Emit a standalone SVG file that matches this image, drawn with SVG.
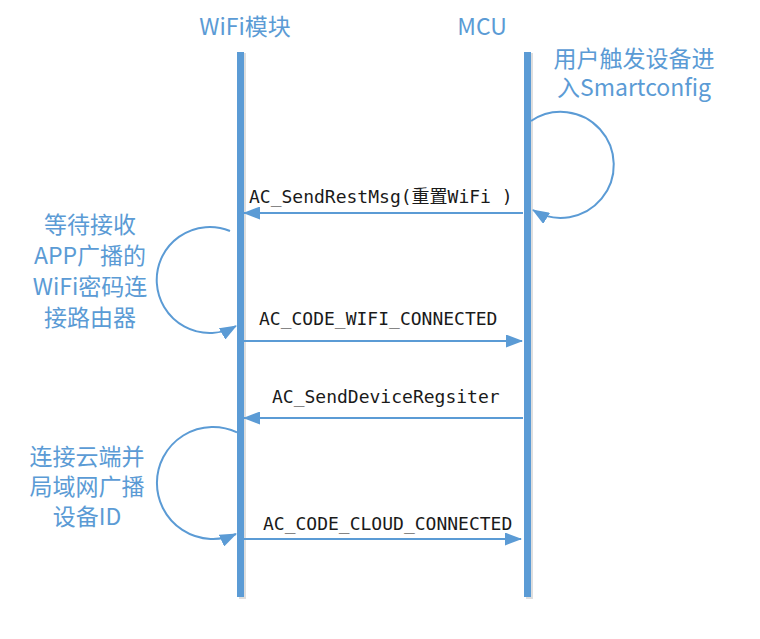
<svg xmlns="http://www.w3.org/2000/svg" width="760" height="639" viewBox="0 0 760 639">
<style>
.lbl{font-family:"Noto Sans CJK SC","Noto Sans",sans-serif;font-size:23px;fill:#5B9BD5;text-anchor:middle}
.msg{font-family:"DejaVu Sans Mono","Noto Sans CJK SC",monospace;font-size:18px;fill:#1a1a1a}
.ln{stroke:#5B9BD5;stroke-width:2;fill:none;marker-end:url(#ah)}
.life{fill:#5B9BD5}
.shadow{fill:#c8c8c8;opacity:0.6}
</style>
<defs>
<marker id="ah" markerUnits="userSpaceOnUse" viewBox="0 0 17 13" refX="16" refY="6.5" markerWidth="17" markerHeight="13" orient="auto">
<path d="M0,0 L17,6.5 L0,13 z" fill="#5B9BD5"/>
</marker>
</defs>
<rect width="760" height="639" fill="#ffffff"/>
<g id="wifi">
<text class="lbl" x="245" y="35">WiFi模块</text>
<rect class="shadow" x="239" y="53" width="7" height="546"/>
<rect class="life" x="237" y="52" width="7" height="545"/>
</g>
<g id="mcu">
<text class="lbl" x="482" y="35">MCU</text>
<rect class="shadow" x="526" y="53" width="7" height="546"/>
<rect class="life" x="524" y="52" width="7" height="545"/>
</g>
<g id="note-mcu">
<text class="lbl" x="634" y="67">用户触发设备进</text>
<text class="lbl" x="634" y="96">入Smartconfig</text>
</g>
<g id="note-wifi1">
<text class="lbl" x="90" y="233">等待接收</text>
<text class="lbl" x="90" y="264">APP广播的</text>
<text class="lbl" x="90" y="295">WiFi密码连</text>
<text class="lbl" x="90" y="326">接路由器</text>
</g>
<g id="note-wifi2">
<text class="lbl" x="87" y="465">连接云端并</text>
<text class="lbl" x="87" y="495">局域网广播</text>
<text class="lbl" x="87" y="525">设备ID</text>
</g>
<g id="connectors">
<path class="ln" d="M531,121 A53,53 0 1,1 533,210"/>
<path class="ln" d="M523,213 L244,213"/>
<path class="ln" d="M230,231 A53,53 0 1,0 236,326"/>
<path class="ln" d="M244,341 L522,341"/>
<path class="ln" d="M523,418 L244,418"/>
<path class="ln" d="M237,432.4 A56,56 0 1,0 236,534"/>
<path class="ln" d="M244,539 L521,539"/>
</g>
<g id="labels">
<text class="msg" x="249" y="203">AC_SendRestMsg(重置WiFi )</text>
<text class="msg" x="259" y="325">AC_CODE_WIFI_CONNECTED</text>
<text class="msg" x="272" y="403">AC_SendDeviceRegsiter</text>
<text class="msg" x="263" y="530">AC_CODE_CLOUD_CONNECTED</text>
</g>
</svg>
